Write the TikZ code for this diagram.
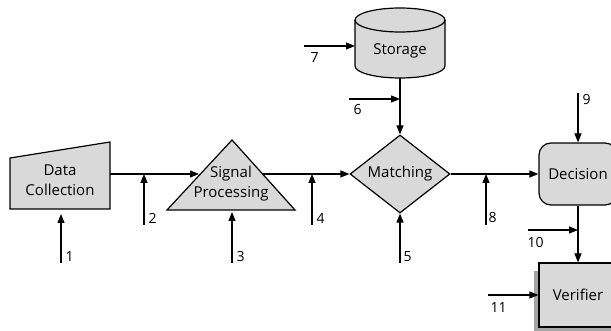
\documentclass[tikz,border=0pt]{standalone}
\usepackage{fontspec}
\setmainfont{Open Sans}
\usetikzlibrary{arrows.meta,shapes.geometric,shadows}
\definecolor{boxgray}{RGB}{217,217,217}
\definecolor{shadowgray}{RGB}{165,165,165}
\begin{document}
\begin{tikzpicture}[x=1pt,y=-1pt,line width=1.2pt,
  arr/.style={-{Triangle[length=9pt,width=7pt]},line width=1.2pt},
  blk/.style={draw=black,fill=boxgray,line width=1.2pt,line join=miter},
  txt/.style={font=\fontsize{15}{20}\selectfont,align=center,inner sep=0pt},
  num/.style={font=\fontsize{14}{17}\selectfont,anchor=west,inner sep=0pt}]
\useasboundingbox (0,0) rectangle (611,331);

% Data collection (trapezoid)
\draw[blk] (10,158) -- (110,142) -- (110,209) -- (10,209) -- cycle;
\node[txt] (dc) at (60,180) {Data\\Collection};
\coordinate (dcR) at (110,174);
\coordinate (dcB) at (61,214);

% Signal processing (triangle)
\draw[blk] (167,210) -- (232,140) -- (295,210) -- cycle;
\node[txt] (sp) at (231,184) {Signal\\Processing};
\coordinate (spL) at (199,174);
\coordinate (spR) at (263,174);
\coordinate (spB) at (232,212);

% Storage (cylinder)
\draw[blk] (355,20) -- (355,66) arc[start angle=180,end angle=360,x radius=45pt,y radius=12pt]
  -- (445,20) arc[start angle=0,end angle=180,x radius=45pt,y radius=12pt] -- cycle;
\draw (355,20) arc[start angle=180,end angle=360,x radius=45pt,y radius=12pt];
\node[txt] (st) at (400,51) {Storage};
\coordinate (stB) at (400,78);
\coordinate (stL) at (355,46);

% Matching (diamond)
\node[blk,diamond,aspect=1.28,minimum width=100pt,minimum height=78pt,inner sep=0pt,
  font=\fontsize{15}{20}\selectfont] (mt) at (400,174) {Matching};

% Decision
\node[blk,rounded corners=12pt,minimum width=78pt,minimum height=62pt,txt] (dec) at (578,174) {Decision};

% Verifier
\node[blk,minimum width=78pt,minimum height=64pt,txt,
  drop shadow={shadow xshift=-5pt,shadow yshift=-8pt,fill=shadowgray,opacity=1}] (ver) at (578,295) {Verifier};

% junctions on connectors
\coordinate (j2) at (144,174);
\coordinate (j4) at (312,174);
\coordinate (j6) at (400,99);
\coordinate (j8) at (486,174);
\coordinate (j10) at (578,230);

% free ends of inputs
\coordinate (i1) at (61,263);
\coordinate (i2) at (144,225);
\coordinate (i3) at (232,263);
\coordinate (i4) at (312,225);
\coordinate (i5) at (400,263);
\coordinate (i6) at (349,99);
\coordinate (i7) at (304,46);
\coordinate (i8) at (486,225);
\coordinate (i9) at (578,93);
\coordinate (i10) at (528,230);
\coordinate (i11) at (488,295);

% main flow
\draw[arr] (dcR) -- (spL);
\draw[arr] (spR) -- (mt.west);
\draw[arr] (mt.east) -- (dec.west);
\draw[arr] (stB) -- (mt.north);
\draw[arr] (dec.south) -- (ver.north);

% inputs
\draw[arr] (i1) -- (dcB);
\draw[arr] (i2) -- (j2);
\draw[arr] (i3) -- (spB);
\draw[arr] (i4) -- (j4);
\draw[arr] (i5) -- (mt.south);
\draw[arr] (i6) -- (j6);
\draw[arr] (i7) -- (stL);
\draw[arr] (i8) -- (j8);
\draw[arr] (i9) -- (dec.north);
\draw[arr] (i10) -- (j10);
\draw[arr] (i11) -- (ver.west);

% labels
\node[num] (n1) at (65,257) {1};
\node[num] (n2) at (148,218) {2};
\node[num] (n3) at (236,257) {3};
\node[num] (n4) at (316,218) {4};
\node[num] (n5) at (403,257) {5};
\node[num] (n6) at (353,110) {6};
\node[num] (n7) at (310,58) {7};
\node[num] (n8) at (488,218) {8};
\node[num] (n9) at (582,100) {9};
\node[num] (n10) at (527,242) {10};
\node[num] (n11) at (490,308) {11};
\end{tikzpicture}
\end{document}
